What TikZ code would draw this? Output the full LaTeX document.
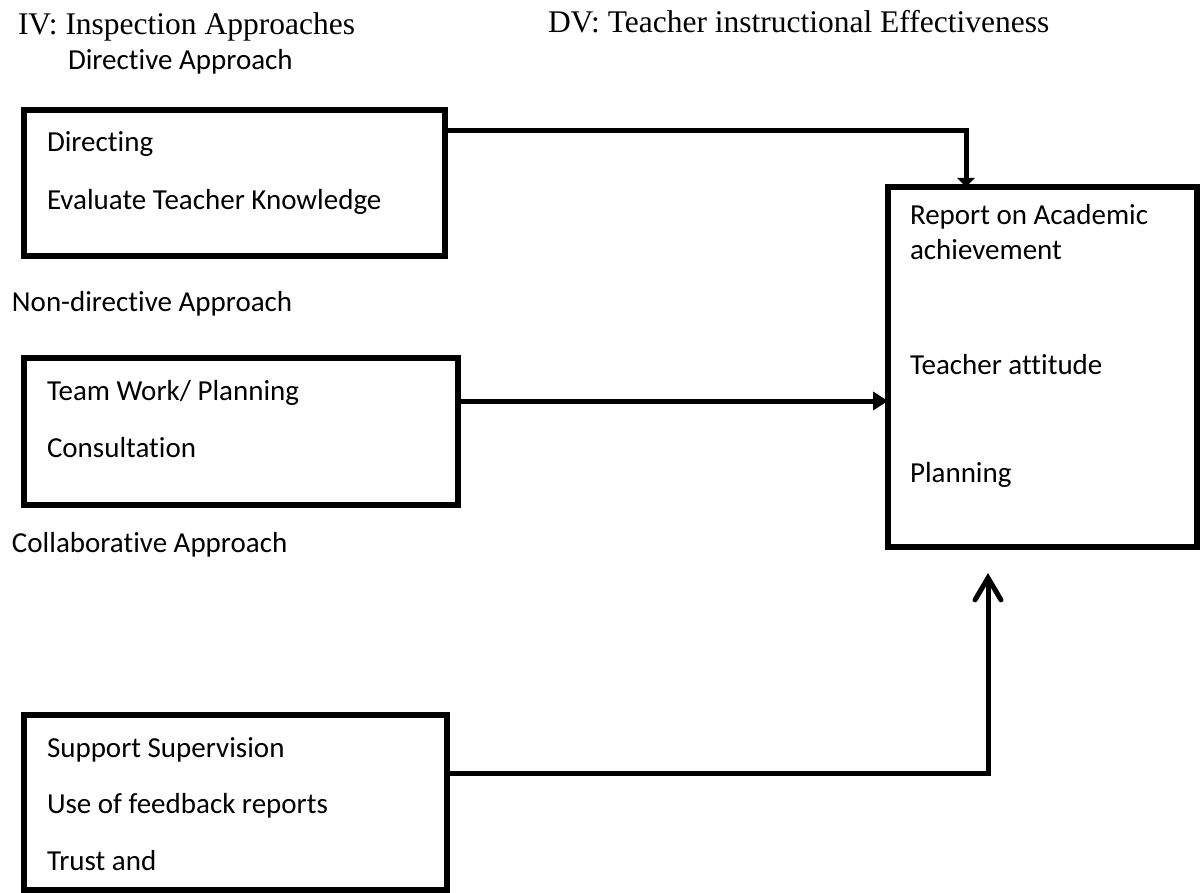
\documentclass[tikz,border=0pt]{standalone}
\usepackage{fontspec}
\setmainfont{Carlito}[Ligatures={NoCommon}]
\newfontfamily\timesfont{Liberation Serif}
\usetikzlibrary{arrows.meta}
\begin{document}
\begin{tikzpicture}[x=1pt,y=-1pt,
  boxstyle/.style={draw=black,line width=6pt,rectangle,inner sep=0pt,outer sep=0pt},
  lbl/.style={anchor=base west,inner sep=0pt,outer sep=0pt,font=\fontsize{29}{34}\selectfont},
  hdr/.style={anchor=base west,inner sep=0pt,outer sep=0pt,font=\timesfont\fontsize{31.5}{36}\selectfont},
  conn/.style={line width=5pt,line join=miter}
]
\useasboundingbox (0,0) rectangle (1200,893);
% headers
\node[hdr] (iv) at (18,35) {IV: Inspection Approaches};
\node[hdr] (dv) at (548,33) {DV: Teacher instructional Effectiveness};
\node[lbl] (dir) at (68,70) {Directive Approach};
\node[lbl] (ndir) at (12,312) {Non-directive Approach};
\node[lbl] (coll) at (12,552) {Collaborative Approach};
% boxes
\node[boxstyle,minimum width=421pt,minimum height=146pt] (b1) at (234.5,183) {};
\node[boxstyle,minimum width=434pt,minimum height=147pt] (b2) at (241,431.5) {};
\node[boxstyle,minimum width=423pt,minimum height=175pt] (b3) at (235.5,802.5) {};
\node[boxstyle,minimum width=309pt,minimum height=360pt] (rb) at (1042.5,367) {};
% box texts
\node[lbl] (t11) at (47,152) {Directing};
\node[lbl] (t12) at (47,210) {Evaluate Teacher Knowledge};
\node[lbl] (t21) at (47,400) {Team Work/ Planning};
\node[lbl] (t22) at (47,457) {Consultation};
\node[lbl] (t31) at (47,757) {Support Supervision};
\node[lbl] (t32) at (47,813) {Use of feedback reports};
\node[lbl] (t33) at (47,870) {Trust and};
\node[lbl] (r1) at (910,225) {Report on Academic};
\node[lbl] (r2) at (910,260) {achievement};
\node[lbl] (r3) at (910,375) {Teacher attitude};
\node[lbl] (r4) at (910,482) {Planning};
% connectors
\coordinate (c1) at (966,131);
\draw[conn,-{Triangle[length=9pt,width=17pt]}] (b1.east |- c1) -- (c1) -- (c1 |- rb.north);
\coordinate (c2) at (0,401);
\draw[conn,-{Triangle[length=15pt,width=18pt]}] (b2.east |- c2) -- (rb.west |- c2);
\coordinate (c3) at (988,773);
\coordinate (c3tip) at (988,573);
\draw[conn,-{Straight Barb[length=22pt,width=26pt,line cap=round]}] (b3.east |- c3) -- (c3) -- (c3tip);
\end{tikzpicture}
\end{document}
